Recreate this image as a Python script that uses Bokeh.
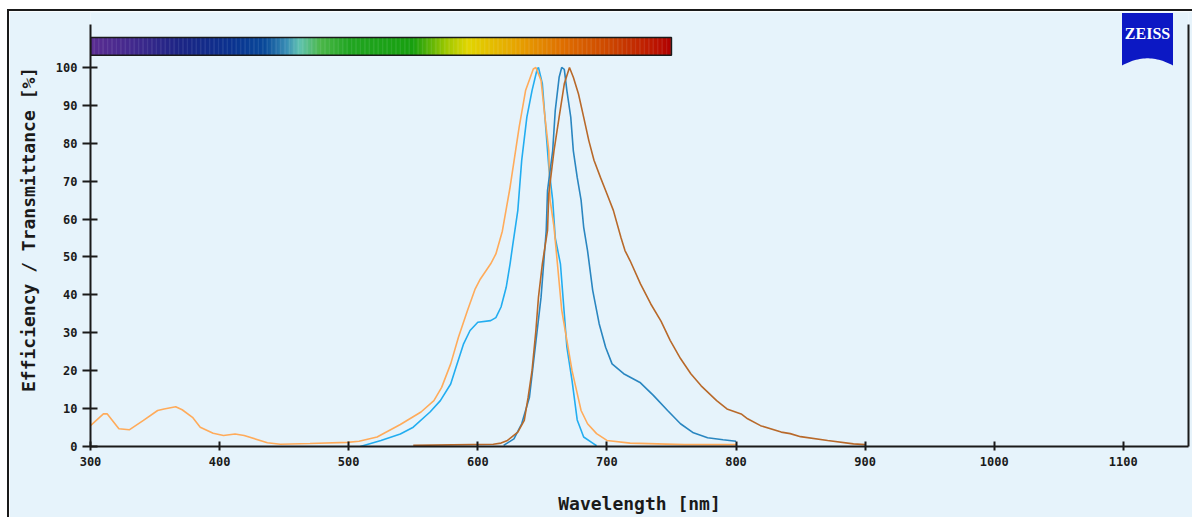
import numpy as np
from bokeh.plotting import figure
from bokeh.models import Range1d, LinearAxis, FixedTicker
from bokeh.core.properties import value
from bokeh.embed import file_html
from bokeh.resources import INLINE

# ---------------- data ----------------
x_ticks = [300, 400, 500, 600, 700, 800, 900, 1000, 1100]
y_ticks = [0, 10, 20, 30, 40, 50, 60, 70, 80, 90, 100]

orange_wl = [300, 310, 313, 322, 330, 341, 352, 357, 366, 371, 379, 385, 395, 403, 412,
             419, 437, 447, 470, 499, 508, 522, 540, 556, 566, 572, 579, 585, 592, 598,
             602, 610, 614, 619, 625, 632, 637, 643, 645, 649, 652, 655, 656, 659, 665,
             669, 673, 677, 680, 685, 692, 700, 718, 760, 800]
orange_val = [5.5, 8.6, 8.6, 4.7, 4.4, 6.9, 9.5, 9.9, 10.5, 9.7, 7.7, 5.1, 3.5, 2.9, 3.3,
              2.9, 1.0, 0.6, 0.8, 1.1, 1.4, 2.5, 5.8, 9.1, 12.1, 15.6, 21.8, 28.8, 35.9, 41.6,
              44.2, 48.2, 50.8, 56.8, 68.4, 84.2, 93.9, 99.6, 100, 96.6, 86.9, 78, 65, 58, 36,
              28, 20, 14, 9.5, 6.0, 3.4, 1.6, 0.9, 0.5, 0.5]

lblue_wl = [509, 525, 540, 550, 563, 571, 579, 584, 589, 594, 600, 610, 614, 618, 622,
            625, 627, 631, 634, 638, 642, 646, 647, 650, 653, 655, 658, 660, 664, 667,
            669, 673, 677, 682, 689, 692]
lblue_val = [0, 1.6, 3.3, 5.1, 9.1, 12.1, 16.5, 21.8, 27.1, 30.6, 32.8, 33.2, 34, 36.8, 42,
             48.2, 53, 62.3, 75.5, 86.9, 93.9, 99.6, 100, 95.7, 82.5, 73.7, 65, 55, 48.2, 35,
             26.2, 17.4, 7, 2.5, 0.9, 0.2]

dblue_wl = [620, 628, 634, 640, 643, 646, 649, 651, 653, 654, 658, 660, 663, 665, 667,
            669, 672, 674, 677, 680, 682, 685, 689, 694, 699, 704, 713, 726, 736, 747,
            757, 767, 778, 790, 800]
dblue_val = [0.3, 2, 6, 13, 21.8, 30.6, 39.4, 48.2, 57, 67.5, 78, 88.7, 97.4, 100, 99.5,
             93.9, 86.9, 78, 71, 65, 57.9, 51.7, 41.2, 32.4, 26.2, 21.8, 19.2, 16.8, 13.5, 9.5,
             6, 3.6, 2.3, 1.8, 1.4]

brown_wl = [550, 612, 618, 623, 631, 636, 639, 642, 645, 647, 650, 654, 655, 659, 663,
            667, 671, 674, 678, 682, 686, 690, 695, 700, 705, 711, 714, 718, 726, 734,
            742, 749, 757, 765, 773, 785, 793, 804, 809, 819, 835, 842, 850, 871, 891, 900]
brown_val = [0.3, 0.6, 0.9, 1.6, 3.8, 6.9, 13, 20, 30.6, 39.4, 48.2, 57, 66.7, 78, 86.9,
             95.7, 100, 97.4, 93, 86.9, 80.7, 75.5, 71, 66.7, 62.3, 55, 51.7, 49, 42.9, 37.6,
             33, 28, 23.2, 19.2, 16, 12.1, 9.9, 8.6, 7.3, 5.5, 3.8, 3.4, 2.6, 1.6, 0.7, 0.5]

# spectrum bar (style: gradient stops)
bar_stops_nm = [300, 330, 370, 410, 435, 452, 462, 478, 500, 550, 575, 592, 630, 665, 705, 740, 750]
bar_stops_col = ["#5b2d92", "#452a8e", "#1c2585", "#0b3390", "#0a4a9a", "#3a8fb5", "#60c2b0",
                 "#4cb84a", "#22a622", "#18a010", "#9cc800", "#e2d600", "#e8a400", "#e07000",
                 "#cc4400", "#bb1100", "#b00000"]

BG = "#e6f3fb"
AX = "#1a1a1a"
MONO = "DejaVu Sans Mono"

p = figure(width=1183, height=506, x_range=Range1d(300, 1150.5), y_range=Range1d(0, 114.5),
           output_backend="svg", toolbar_location=None, x_axis_type=None, y_axis_type=None,
           min_border_left=81, min_border_right=4, min_border_top=1, min_border_bottom=71)
p.background_fill_color = BG
p.border_fill_color = BG
p.outline_line_color = None
p.styles = {"margin-left": "9px", "margin-top": "11px", "outline": "2px solid #1a1a1a"}

# axes
xax = LinearAxis(ticker=FixedTicker(ticks=x_ticks), axis_label="Wavelength [nm]")
yax = LinearAxis(ticker=FixedTicker(ticks=y_ticks), axis_label="Efficiency / Transmittance [%]",
                 bounds=(0, 111.3))
rax = LinearAxis(ticker=FixedTicker(ticks=[]), bounds=(0, 111.3),
                 major_label_text_font_size="0px", major_tick_in=0, major_tick_out=0,
                 minor_tick_in=0, minor_tick_out=0, major_label_standoff=0)
for ax in (xax, yax, rax):
    ax.axis_line_color = AX
    ax.axis_line_width = 2
    ax.major_tick_line_color = AX
    ax.major_tick_line_width = 2
    ax.minor_tick_line_color = None
    ax.major_label_text_font = MONO
    ax.major_label_text_font_style = "bold"
    ax.major_label_text_color = AX
    ax.axis_label_text_font = MONO
    ax.axis_label_text_font_style = "bold"
    ax.axis_label_text_color = AX
    ax.axis_label_text_font_size = "18px"
xax.major_tick_in = 5
xax.major_tick_out = 4
xax.major_label_text_font_size = "12px"
xax.major_label_standoff = 6
xax.axis_label_standoff = 24
yax.major_tick_in = 7
yax.major_tick_out = 8
yax.major_label_text_font_size = "12px"
yax.major_label_standoff = 5
yax.axis_label_standoff = 14
p.add_layout(xax, "below")
p.add_layout(yax, "left")
p.add_layout(rax, "right")

p.ygrid.ticker = FixedTicker(ticks=y_ticks[1:])
p.ygrid.grid_line_color = "#c2c6c9"
p.ygrid.grid_line_dash = "3 6"
p.ygrid.grid_line_width = 1
p.xgrid.grid_line_color = None

# spectrum bar
edges = np.arange(bar_stops_nm[0], bar_stops_nm[-1] + 1, 1.0)
mids = (edges[:-1] + edges[1:]) / 2
rgb = np.array([[int(c[i:i + 2], 16) for i in (1, 3, 5)] for c in bar_stops_col], dtype=float)
cols = []
for m in mids:
    r, g, b = (np.interp(m, bar_stops_nm, rgb[:, k]) for k in range(3))
    cols.append("#%02x%02x%02x" % (int(r), int(g), int(b)))
p.quad(left=edges[:-1], right=edges[1:] + 0.3, bottom=103.2, top=107.9,
       fill_color=cols, line_color=None)
p.quad(left=[bar_stops_nm[0]], right=[bar_stops_nm[-1]], bottom=[103.2], top=[107.9],
       fill_color=None, line_color=AX, line_width=1.5)

# curves
p.line(lblue_wl, lblue_val, line_color="#22adf0", line_width=1.6)
p.line(orange_wl, orange_val, line_color="#ffab5a", line_width=1.6)
p.line(dblue_wl, dblue_val, line_color="#2a86c0", line_width=1.6)
p.line(brown_wl, brown_val, line_color="#b8692a", line_width=1.6)

# ZEISS logo (decoration)
lx0, lx1, ltop, lcorner, lcenter = 1099.0, 1138.5, 114.4, 100.5, 102.4
mid = (lx0 + lx1) / 2
arc_x = np.linspace(lx1, lx0, 30)
arc_y = lcenter + (lcorner - lcenter) * ((arc_x - mid) / ((lx1 - lx0) / 2)) ** 2
p.patch(x=[lx0, lx1] + list(arc_x), y=[ltop, ltop] + list(arc_y),
        fill_color="#0c18c4", line_color=None)
p.text(x=[mid], y=[109.0], text=["ZEISS"], text_align="center", text_baseline="middle",
       text_color="white", text_font=value("Liberation Serif"), text_font_style="bold",
       text_font_size="16px")

open("out.html", "w").write(file_html(p, INLINE))
